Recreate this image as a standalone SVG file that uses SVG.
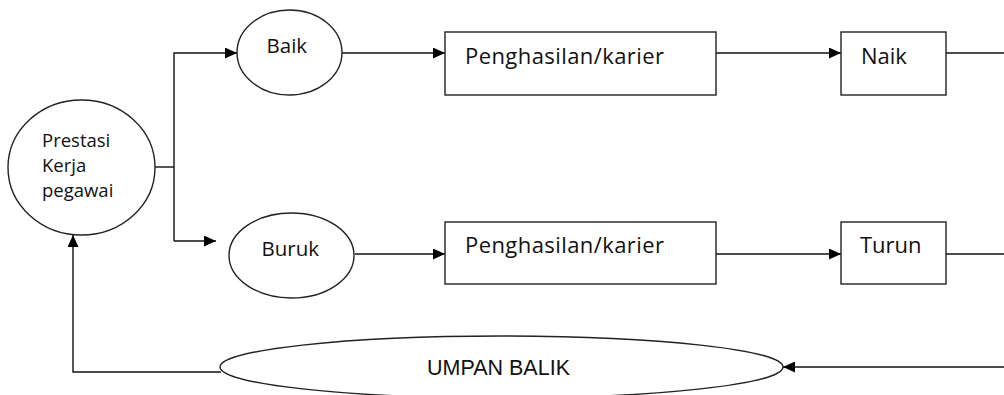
<svg xmlns="http://www.w3.org/2000/svg" width="1004" height="395" viewBox="0 0 1004 395">
<defs>
<style>
.shape{fill:#fff;stroke:#222;stroke-width:1.4}
.conn{fill:none;stroke:#111;stroke-width:1.4}
.t{font-family:"Open Sans","Noto Sans",sans-serif;fill:#111}
.u{font-family:"Liberation Sans",Arial,sans-serif;fill:#111}
</style>
<marker id="arr" viewBox="0 0 12 11" refX="12" refY="5.5" markerWidth="12" markerHeight="11" markerUnits="userSpaceOnUse" orient="auto">
<path d="M0,0 L12,5.5 L0,11 Z" fill="#000"/>
</marker>
</defs>
<rect width="1004" height="395" fill="#fff"/>
<g id="connectors">
<polyline class="conn" points="155,167 174,167"/>
<polyline class="conn" points="174,241 174,53 237,53" marker-end="url(#arr)"/>
<polyline class="conn" points="174,241 216,241" marker-end="url(#arr)"/>
<polyline class="conn" points="342,53 445,53" marker-end="url(#arr)"/>
<polyline class="conn" points="716,53 841,53" marker-end="url(#arr)"/>
<polyline class="conn" points="946,53 1004,53"/>
<polyline class="conn" points="355,254 445,254" marker-end="url(#arr)"/>
<polyline class="conn" points="716,254 841,254" marker-end="url(#arr)"/>
<polyline class="conn" points="946,254 1004,254"/>
<polyline class="conn" points="1004,367 783,367" marker-end="url(#arr)"/>
<polyline class="conn" points="221,372 73,372 73,235" marker-end="url(#arr)"/>
</g>
<g id="prestasi">
<ellipse class="shape" cx="81.5" cy="167.5" rx="73.5" ry="67.5"/>
<text class="t" font-size="18.5" x="42" y="146.5">Prestasi</text>
<text class="t" font-size="18.5" x="42" y="171.5">Kerja</text>
<text class="t" font-size="18.5" x="42" y="196.5">pegawai</text>
</g>
<g id="baik">
<ellipse class="shape" cx="289.5" cy="52.5" rx="52.5" ry="42.5"/>
<text class="t" font-size="20.5" x="266.5" y="52.5">Baik</text>
</g>
<g id="buruk">
<ellipse class="shape" cx="291.5" cy="255.5" rx="62.5" ry="42.5"/>
<text class="t" font-size="20.5" x="261.5" y="256">Buruk</text>
</g>
<g id="penghasilan1">
<rect class="shape" x="445" y="32" width="271" height="63"/>
<text class="t" font-size="22" x="465" y="64" textLength="199" lengthAdjust="spacing">Penghasilan/karier</text>
</g>
<g id="naik">
<rect class="shape" x="841" y="32" width="105" height="63"/>
<text class="t" font-size="22" x="861" y="64">Naik</text>
</g>
<g id="penghasilan2">
<rect class="shape" x="445" y="222" width="271" height="62"/>
<text class="t" font-size="22" x="465" y="252.5" textLength="199" lengthAdjust="spacing">Penghasilan/karier</text>
</g>
<g id="turun">
<rect class="shape" x="841" y="222" width="105" height="62"/>
<text class="t" font-size="22" x="860" y="252.5">Turun</text>
</g>
<g id="umpan-balik">
<ellipse class="shape" cx="501.5" cy="367" rx="281.5" ry="31"/>
<text class="u" font-size="21.5" x="427" y="375">UMPAN BALIK</text>
</g>
</svg>
